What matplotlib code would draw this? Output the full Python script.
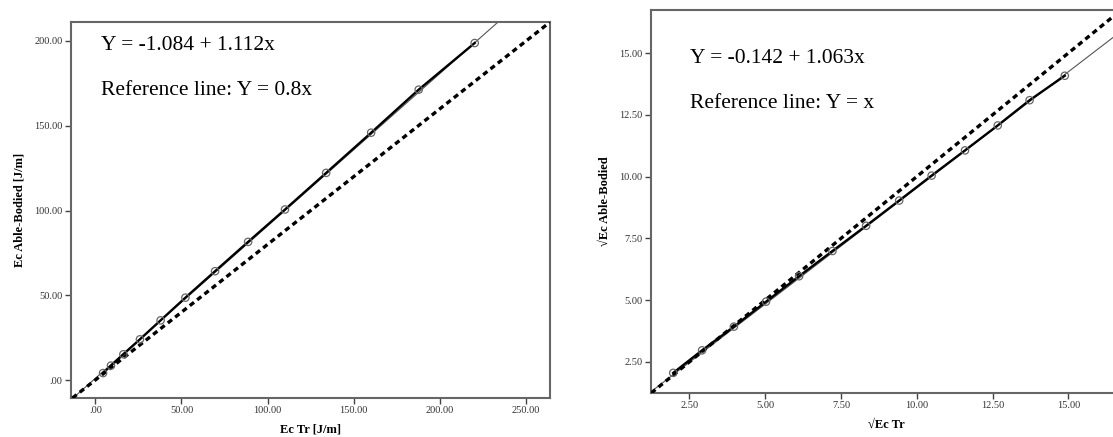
import matplotlib
matplotlib.use("Agg")
import matplotlib.pyplot as plt
from matplotlib.ticker import FuncFormatter

plt.rcParams['font.family'] = ['Liberation Serif', 'DejaVu Serif']

# left panel: Ec Tr vs Ec Able-Bodied [J/m]
ec_tr = [4.5, 9.1, 16.3, 25.9, 37.9, 52.3, 69.5, 88.7, 110.1, 134.0, 160.1, 187.7, 220.2]
ec_ab = [4.1, 8.5, 15.2, 24.0, 35.2, 48.6, 64.2, 81.5, 100.6, 122.2, 145.9, 171.3, 198.8]
fit_left = (-1.084, 1.112)
ref_left = 0.8

# right panel: square-root scale
sq_tr = [1.97, 2.92, 3.97, 5.03, 6.12, 7.22, 8.33, 9.42, 10.49, 11.59, 12.67, 13.72, 14.88]
sq_ab = [2.06, 2.97, 3.93, 4.94, 5.97, 6.99, 8.01, 9.03, 10.04, 11.06, 12.07, 13.09, 14.08]
fit_right = (-0.142, 1.063)
ref_right = 1.0

left_ticks_x = [0, 50, 100, 150, 200, 250]
left_ticks_y = [0, 50, 100, 150, 200]
right_ticks = [2.5, 5, 7.5, 10, 12.5, 15]

W, H = 1113, 437


def spss_fmt(v, pos=None):
    s = f"{v:.2f}"
    if s.startswith("0."):
        s = s[1:]
    return s


def panel(rect, x, y, fit, ref, xlim, ylim, xt, yt, xlabel, ylabel, txt1, txt2, txtpos):
    l, t, r, b = rect
    ax = fig.add_axes([l / W, 1 - b / H, (r - l) / W, (b - t) / H])
    ax.set_xlim(*xlim)
    ax.set_ylim(*ylim)
    # thin fit line over the whole axes (fit is x = a + b*y)
    a, bb = fit
    ax.axline((a, 0), slope=1 / bb, color='#555555', lw=0.8, zorder=2)
    ax.plot(x, y, color='black', lw=1.7, zorder=3)
    ax.scatter(x, y, s=28, facecolors='none', edgecolors='#666666', lw=0.9, zorder=4)
    ax.axline((0, 0), slope=ref, color='black', lw=2.4, ls=(0, (1.6, 1.2)), zorder=3)
    ax.set_xticks(xt)
    ax.set_yticks(yt)
    ax.xaxis.set_major_formatter(FuncFormatter(spss_fmt))
    ax.yaxis.set_major_formatter(FuncFormatter(spss_fmt))
    ax.tick_params(direction='out', length=4, width=1, colors='#444444',
                   labelsize=7.5, labelcolor='#333333', pad=2)
    for sp in ax.spines.values():
        sp.set_color('#666666')
        sp.set_linewidth(1.5)
    ax.set_xlabel(xlabel, fontsize=9, fontweight='bold', labelpad=6)
    ax.set_ylabel(ylabel, fontsize=9, fontweight='bold', labelpad=6)
    tx, ty1, ty2 = txtpos
    fig.text(tx / W, 1 - ty1 / H, txt1, fontsize=15.5, ha='left', va='baseline')
    fig.text(tx / W, 1 - ty2 / H, txt2, fontsize=15.5, ha='left', va='baseline')
    return ax


fig = plt.figure(figsize=(W / 100, H / 100), dpi=100)

panel((71, 22, 550, 398), ec_tr, ec_ab, fit_left, ref_left,
      (-14.1, 263.9), (-10.6, 211.2), left_ticks_x, left_ticks_y,
      "Ec Tr [J/m]", "Ec Able-Bodied [J/m]",
      "Y = -1.084 + 1.112x", "Reference line: Y = 0.8x", (101, 50, 95))

panel((651, 10, 1121.5, 393), sq_tr, sq_ab, fit_right, ref_right,
      (1.237, 16.75), (1.245, 16.74), right_ticks, right_ticks,
      "√Ec Tr", "√Ec Able-Bodied",
      "Y = -0.142 + 1.063x", "Reference line: Y = x", (690, 63, 108))

fig.savefig("out.png", dpi=100)
